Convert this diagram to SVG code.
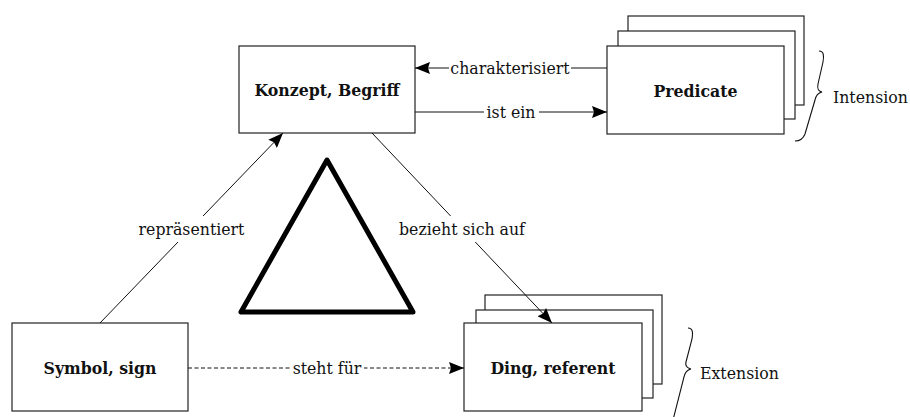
<svg xmlns="http://www.w3.org/2000/svg" width="910" height="417" viewBox="0 0 910 417">
  <style>
    .box { fill: #ffffff; stroke: #222222; stroke-width: 1.2; }
    .edge { fill: none; stroke: #111111; stroke-width: 1; }
    .dash { stroke-dasharray: 4 2.5; }
    text { font-family: "DejaVu Serif Condensed", "DejaVu Serif", "Liberation Serif", serif; font-stretch: condensed; fill: #111111; }
    .title { font-size: 17.5px; font-weight: bold; text-anchor: middle; }
    .lbl { font-size: 17.5px; text-anchor: middle; }
    .side { font-size: 17.5px; }
    .bg { fill: #ffffff; }
    .brace { fill: none; stroke: #111111; stroke-width: 1.1; }
  </style>
  <defs>
    <marker id="arrow" viewBox="0 0 15 12" refX="15" refY="6" markerWidth="15" markerHeight="12" markerUnits="userSpaceOnUse" orient="auto">
      <path d="M0,0 L15,6 L0,12 L2,6 Z" fill="#000000"/>
    </marker>
  </defs>

  <rect width="910" height="417" fill="#ffffff"/>

  <!-- central triangle -->
  <polygon points="327,160 241,312 413,312" fill="none" stroke="#000000" stroke-width="5" stroke-linejoin="round"/>

  <g id="konzept">
    <rect class="box" x="239" y="46" width="176" height="87"/>
    <text class="title" x="327" y="96">Konzept, Begriff</text>
  </g>

  <g id="predicate">
    <rect class="box" x="628" y="16" width="176" height="89"/>
    <rect class="box" x="618" y="31" width="177" height="88"/>
    <rect class="box" x="607" y="46" width="177" height="88"/>
    <text class="title" x="695.5" y="97">Predicate</text>
  </g>

  <g id="symbol">
    <rect class="box" x="12" y="323" width="176" height="88"/>
    <text class="title" x="100" y="374">Symbol, sign</text>
  </g>

  <g id="ding">
    <rect class="box" x="485" y="295" width="177" height="89"/>
    <rect class="box" x="476" y="310" width="177" height="88"/>
    <rect class="box" x="464" y="323" width="178" height="88"/>
    <text class="title" x="553" y="374">Ding, referent</text>
  </g>

  <g id="intension">
    <path class="brace" d="M819,51 C824,51 824,56 823,62 L818,84 C817,89 818,91 822,92 C818,93 816,95 815,100 L805,134 C803,139 800,141 795,141"/>
    <text class="side" x="833" y="103">Intension</text>
  </g>

  <g id="extension">
    <path class="brace" d="M688,328 C693,328 693,333 692,339 L686,362 C685,366 687,368 691,369 C687,370 685,372 684,377 L673,420"/>
    <text class="side" x="700" y="379">Extension</text>
  </g>

  <g id="connectors">
    <!-- Predicate -> Konzept -->
    <line class="edge" x1="607" y1="68" x2="415" y2="68" marker-end="url(#arrow)"/>
    <rect class="bg" x="449" y="58" width="122" height="20"/>
    <text class="lbl" x="510" y="74">charakterisiert</text>
    <!-- Konzept -> Predicate -->
    <line class="edge" x1="415" y1="112" x2="607" y2="112" marker-end="url(#arrow)"/>
    <rect class="bg" x="484" y="102" width="55" height="20"/>
    <text class="lbl" x="511" y="118">ist ein</text>
    <!-- Symbol -> Konzept -->
    <line class="edge" x1="100" y1="323" x2="283" y2="133" marker-end="url(#arrow)"/>
    <rect class="bg" x="136" y="216" width="111" height="26"/>
    <text class="lbl" x="191.5" y="235">repräsentiert</text>
    <!-- Konzept -> Ding -->
    <line class="edge" x1="372" y1="133" x2="552" y2="323" marker-end="url(#arrow)"/>
    <rect class="bg" x="396" y="216" width="132" height="26"/>
    <text class="lbl" x="462" y="235">bezieht sich auf</text>
    <!-- Symbol -> Ding -->
    <line class="edge dash" x1="188" y1="368" x2="464" y2="368" marker-end="url(#arrow)"/>
    <rect class="bg" x="290" y="358" width="74" height="20"/>
    <text class="lbl" x="327" y="374">steht für</text>
  </g>
</svg>
